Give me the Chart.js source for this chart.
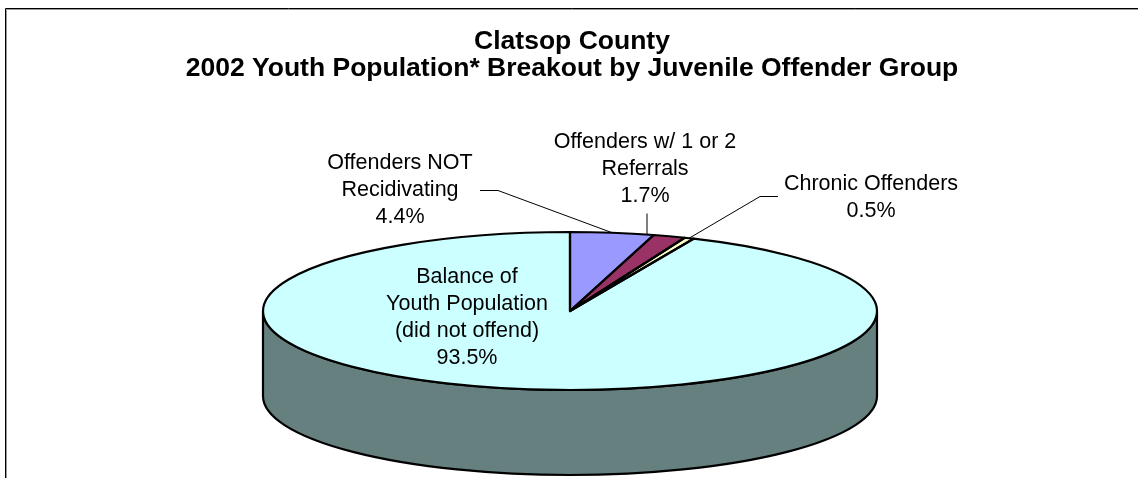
<!DOCTYPE html>
<html>
<head>
<meta charset="utf-8">
<script src="https://cdn.jsdelivr.net/npm/chart.js@4/dist/chart.umd.min.js"></script>
<style>
html, body { margin: 0; padding: 0; background: #fff; }
#wrap { width: 1138px; height: 478px; position: relative; }
</style>
</head>
<body>
<div id="wrap"><canvas id="pieChart"></canvas></div>
<script>
const titleLines = ['Clatsop County', '2002 Youth Population* Breakout by Juvenile Offender Group'];
const categories = [
    ['Offenders NOT', 'Recidivating'],
    ['Offenders w/ 1 or 2', 'Referrals'],
    ['Chronic Offenders'],
    ['Balance of', 'Youth Population', '(did not offend)']
];
const percents = [4.4, 1.7, 0.5, 93.5];

const sliceColors = ['#9999FF', '#993366', '#FFFFCC', '#CCFFFF'];
const FONT = '"Liberation Sans", Arial, sans-serif';

// the round pie gets squashed into this ellipse, side wall hangs below it
const pie3d = { cx: 570, cy: 311, rx: 307, ry: 79, depth: 85 };

// label centre x + first baseline, and the leader line start points
const labelSpots = [
    { x: 400, y: 169, leader: [[480, 190], [498, 190]] },
    { x: 645, y: 148, leader: [[647, 213]], drop: true },
    { x: 871, y: 190, leader: [[778, 196], [760, 196]] },
    { x: 467, y: 283 }
];

const darken = (hex) => {
    const n = parseInt(hex.slice(1), 16);
    const r = (n >> 16) >> 1, g = ((n >> 8) & 255) >> 1, b = (n & 255) >> 1;
    return `rgb(${r},${g},${b})`;
};

const pie3dPlugin = {
    id: 'pie3d',
    beforeDraw(chart) {
        const ctx = chart.ctx;
        ctx.save();
        ctx.lineWidth = 1;
        ctx.strokeStyle = '#000';
        ctx.beginPath();
        ctx.moveTo(5.5, 478); ctx.lineTo(5.5, 8.5); ctx.lineTo(1138, 8.5);
        ctx.stroke();
        ctx.strokeStyle = '#999';
        ctx.beginPath();
        ctx.moveTo(6.5, 478); ctx.lineTo(6.5, 9.5); ctx.lineTo(1138, 9.5);
        ctx.stroke();
        ctx.restore();
    },
    beforeDatasetsDraw(chart) {
        const ctx = chart.ctx;
        const arcs = chart.getDatasetMeta(0).data;
        const { cx, cy, rx, ry, depth } = pie3d;
        // side wall: only the front half (0..PI) can be seen
        ctx.save();
        ctx.lineWidth = 2.2;
        ctx.strokeStyle = '#000';
        ctx.lineJoin = 'round';
        arcs.forEach((arc, i) => {
            const p = arc.getProps(['startAngle', 'endAngle'], true);
            const a1 = Math.max(p.startAngle, 0);
            const a2 = Math.min(p.endAngle, Math.PI);
            if (a2 <= a1) return;
            ctx.beginPath();
            ctx.ellipse(cx, cy, rx, ry, 0, a1, a2);
            ctx.ellipse(cx, cy + depth, rx, ry, 0, a2, a1, true);
            ctx.closePath();
            ctx.fillStyle = darken(sliceColors[i]);
            ctx.fill();
            ctx.stroke();
        });
        ctx.restore();
        // squash the library pie into the ellipse
        const a = arcs[0].getProps(['x', 'y', 'outerRadius'], true);
        ctx.save();
        ctx.translate(cx, cy);
        ctx.scale(rx / a.outerRadius, ry / a.outerRadius);
        ctx.translate(-a.x, -a.y);
    },
    afterDatasetsDraw(chart) {
        const ctx = chart.ctx;
        ctx.restore();
        const arcs = chart.getDatasetMeta(0).data;
        const { cx, cy, rx, ry } = pie3d;
        // outlines unscaled so the line width stays even
        ctx.save();
        ctx.lineWidth = 2.2;
        ctx.strokeStyle = '#000';
        ctx.lineJoin = 'round';
        arcs.forEach(arc => {
            const p = arc.getProps(['startAngle', 'endAngle'], true);
            ctx.beginPath();
            ctx.moveTo(cx, cy);
            ctx.ellipse(cx, cy, rx, ry, 0, p.startAngle, p.endAngle);
            ctx.closePath();
            ctx.stroke();
        });
        ctx.restore();
    },
    afterDraw(chart) {
        const ctx = chart.ctx;
        const arcs = chart.getDatasetMeta(0).data;
        const { cx, cy, rx, ry } = pie3d;
        ctx.save();
        ctx.font = '21.5px ' + FONT;
        ctx.textAlign = 'center';
        ctx.textBaseline = 'alphabetic';
        ctx.fillStyle = '#000';
        ctx.strokeStyle = '#000';
        ctx.lineWidth = 1;
        categories.forEach((lines, i) => {
            const spot = labelSpots[i];
            const text = lines.concat(percents[i].toFixed(1) + '%');
            text.forEach((t, k) => ctx.fillText(t, spot.x, spot.y + k * 27));
            if (!spot.leader) return;
            let end;
            const last = spot.leader[spot.leader.length - 1];
            if (spot.drop) {
                const dx = (last[0] - cx) / rx;
                end = [last[0], cy - ry * Math.sqrt(1 - dx * dx)];
            } else {
                const p = arcs[i].getProps(['startAngle', 'endAngle'], true);
                const m = (p.startAngle + p.endAngle) / 2;
                end = [cx + rx * Math.cos(m), cy + ry * Math.sin(m)];
            }
            ctx.beginPath();
            ctx.moveTo(spot.leader[0][0], spot.leader[0][1] + 0.5);
            spot.leader.slice(1).forEach(pt => ctx.lineTo(pt[0], pt[1] + 0.5));
            ctx.lineTo(end[0], end[1]);
            ctx.stroke();
        });
        ctx.restore();
    }
};

const ctx = document.getElementById('pieChart');
const pieChart = new Chart(ctx, {
    type: 'pie',
    data: {
        labels: categories,
        datasets: [{
            data: percents,
            backgroundColor: sliceColors,
            borderWidth: 0,
            clip: false
        }]
    },
    options: {
        responsive: true,
        maintainAspectRatio: false,
        animation: false,
        events: [],
        layout: { padding: { left: 6 } },
        plugins: {
            legend: { display: false },
            tooltip: { enabled: false },
            title: {
                display: true,
                text: titleLines,
                color: '#000',
                font: { family: FONT, size: 26.5, weight: 'bold', lineHeight: 1.02 },
                padding: { top: 28, bottom: 10 }
            }
        }
    },
    plugins: [pie3dPlugin]
});
</script>
</body>
</html>
